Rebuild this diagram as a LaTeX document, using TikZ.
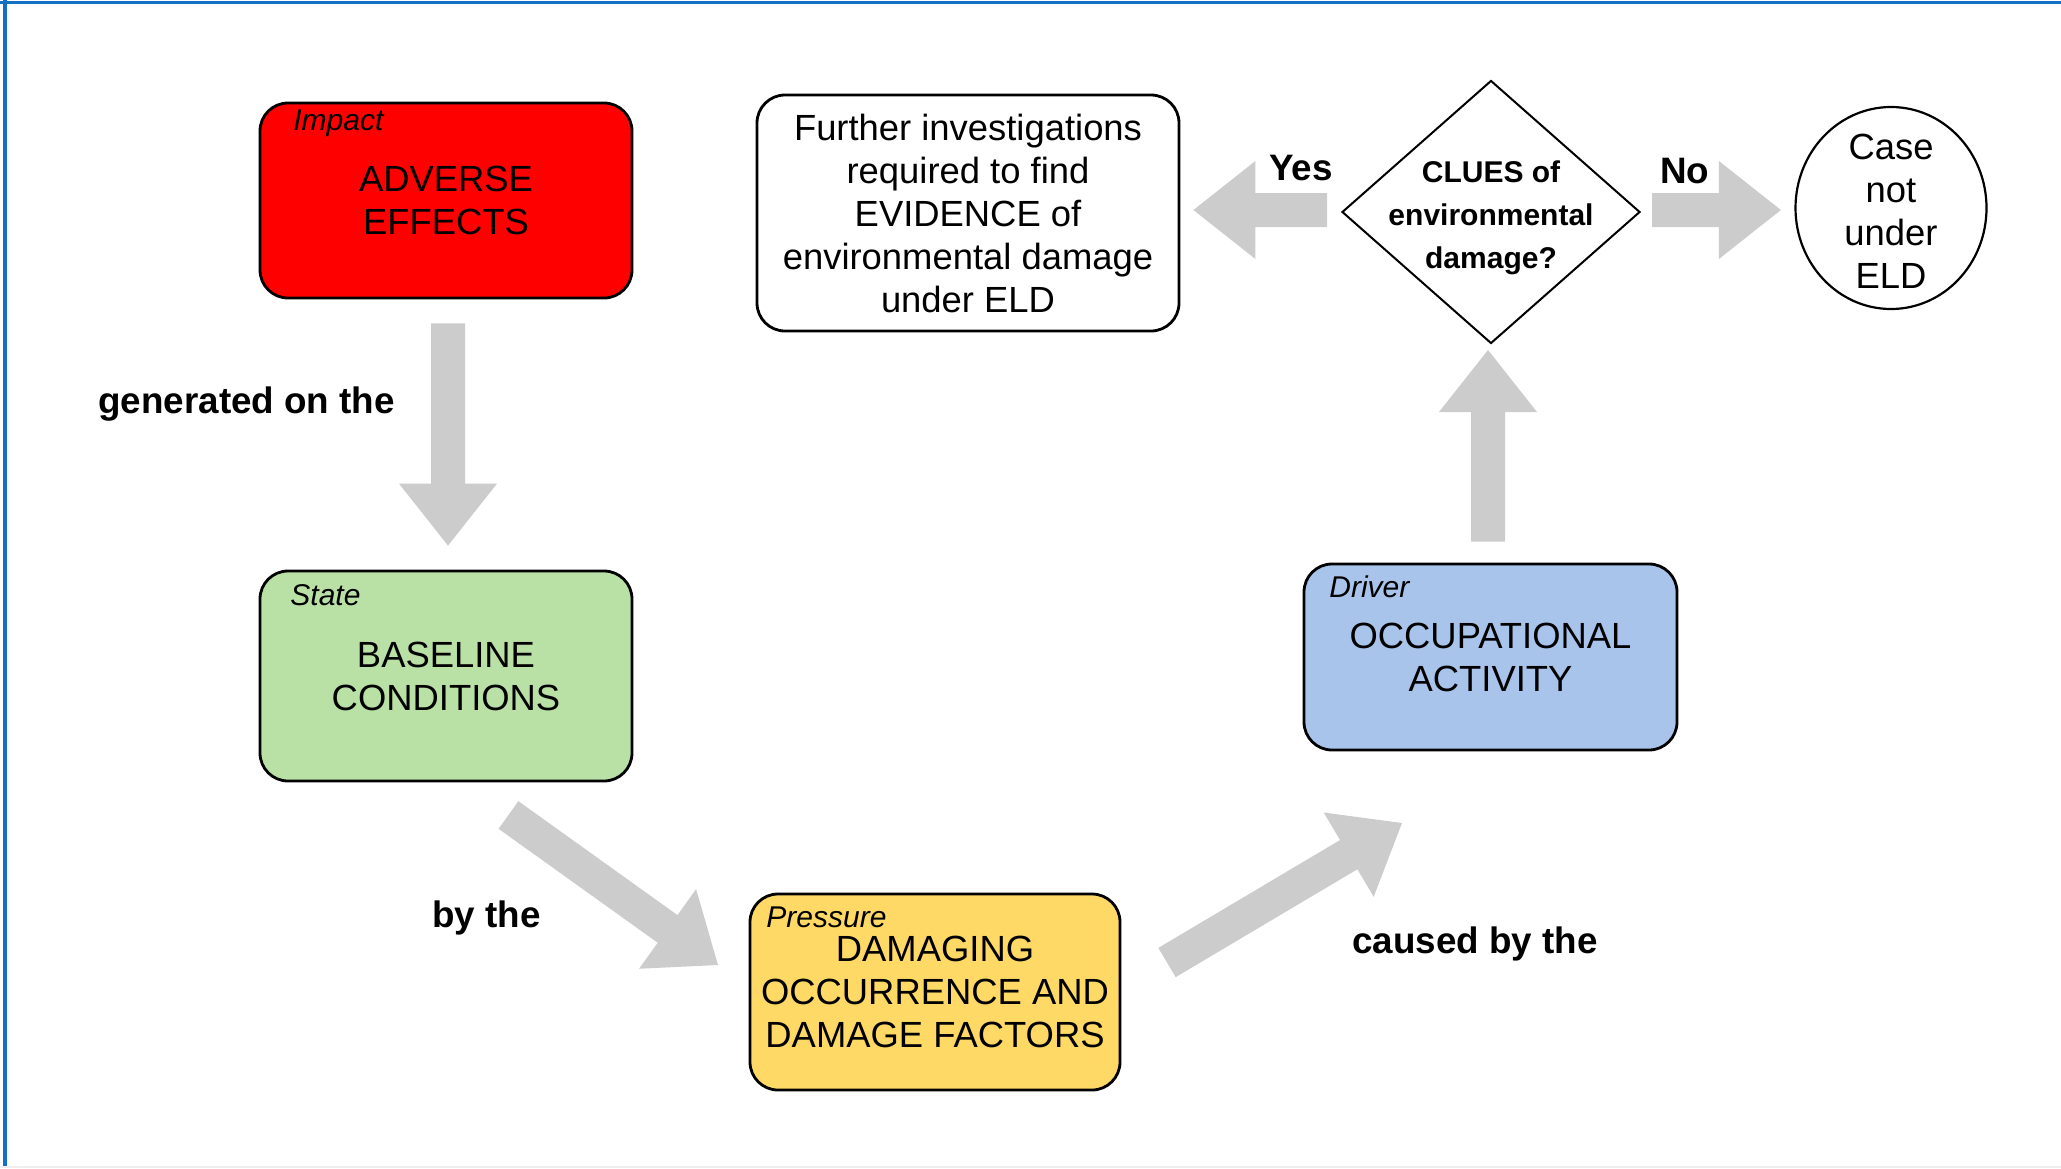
\documentclass[tikz,border=0pt]{standalone}
\usepackage{fontspec}
\setmainfont{Liberation Sans}
\usetikzlibrary{shapes.geometric,calc}
\definecolor{framec}{RGB}{20,112,196}
\definecolor{arrc}{RGB}{204,204,204}
\definecolor{redc}{RGB}{255,0,0}
\definecolor{greenc}{RGB}{185,224,165}
\definecolor{yellowc}{RGB}{255,217,102}
\definecolor{bluec}{RGB}{169,196,235}
% block arrow from tail coordinate #1 to tip coordinate #2
\newcommand{\blockarr}[2]{%
  \coordinate (#1-#2-h) at ($(#2)!31pt!(#1)$);
  \fill[arrc] ($(#1)!8.5pt!90:(#2)$) -- ($(#1-#2-h)!8.5pt!-90:(#1)$) -- ($(#1-#2-h)!24.5pt!-90:(#1)$) -- (#2) -- ($(#1-#2-h)!24.5pt!90:(#1)$) -- ($(#1-#2-h)!8.5pt!90:(#1)$) -- ($(#1)!8.5pt!-90:(#2)$) -- cycle;}
\tikzset{
  box/.style={draw, line width=1.4pt, rounded corners=14pt, inner sep=0pt, align=center, font=\fontsize{18.2}{21.5}\selectfont},
  tag/.style={anchor=base west, inner sep=0pt, font=\fontsize{15}{18}\selectfont\itshape},
  lbl/.style={anchor=base west, inner sep=0pt, font=\fontsize{18.4}{21.5}\selectfont\bfseries},
  plain/.style={inner sep=0pt, align=center, font=\fontsize{18.2}{21.5}\selectfont},
}
\begin{document}
\begin{tikzpicture}[x=0.5pt,y=-0.5pt]
\useasboundingbox (0,0) rectangle (2061,1168);
% frame
\draw[framec, line width=1.5pt] (0,2.5) -- (2061,2.5);
\draw[framec, line width=2.2pt] (5,0) -- (5,1168);
\draw[black!6, line width=0.6pt] (0,1167) -- (2061,1167);

% boxes
\node[box, fill=redc, minimum width=186pt, minimum height=97.5pt] (impact) at (446,200.5) {ADVERSE\\EFFECTS};
\node[tag] (impactlbl) at (293,130) {Impact};
\node[box, fill=greenc, minimum width=186pt, minimum height=105pt] (state) at (446,676) {BASELINE\\CONDITIONS};
\node[tag] (statelbl) at (290,605) {State};
\node[box, fill=yellowc, minimum width=185pt, minimum height=98pt] (pressure) at (935,992) {DAMAGING\\OCCURRENCE AND\\DAMAGE FACTORS};
\node[tag] (pressurelbl) at (766,927) {Pressure};
\node[box, fill=bluec, minimum width=186.5pt, minimum height=93pt] (driver) at (1490.5,657) {OCCUPATIONAL\\ACTIVITY};
\node[tag] (driverlbl) at (1329,597) {Driver};
\node[box, fill=white, minimum width=211pt, minimum height=118pt] (further) at (968,213) {Further investigations\\required to find\\EVIDENCE of\\environmental damage\\under ELD};

\node[diamond, draw, line width=1pt, minimum width=149pt, minimum height=131.5pt, inner sep=0pt] (clue) at (1491,212) {};
\node[plain, font=\fontsize{15}{21.5}\selectfont\bfseries] (cluetxt) at (1491,218) {CLUES of\\environmental\\damage?};
\node[ellipse, draw, line width=1.1pt, minimum width=95.5pt, minimum height=101pt, inner sep=0pt] (case) at (1891,208) {};
\node[plain] (casetxt) at (1891,211) {Case\\not\\under\\ELD};

% labels
\node[lbl] (gen) at (98,413) {generated on the};
\node[lbl] (bythe) at (432,927) {by the};
\node[lbl] (caused) at (1352,953) {caused by the};
\node[lbl] (yes) at (1269,180) {Yes};
\node[lbl] (no) at (1660,183) {No};

% arrow end points
\coordinate (a1t) at ($(impact.south)+(2,24)$);
\coordinate (a1h) at ($(state.north)+(2,-24)$);
\coordinate (a2t) at (508.5,815);
\coordinate (a2h) at (718,965);
\coordinate (a3t) at (1167,962.5);
\coordinate (a3h) at (1402,823);
\coordinate (a4t) at ($(driver.north)+(-2.5,-21)$);
\coordinate (a4h) at ($(clue.south)+(-3,5.5)$);
\coordinate (a5t) at ($(clue.west)+(-14,-2)$);
\coordinate (a5h) at ($(further.east)+(13,-3)$);
\coordinate (a6t) at ($(clue.east)+(11,-2)$);
\coordinate (a6h) at ($(case.west)+(-13.5,2)$);

\blockarr{a1t}{a1h}
\blockarr{a2t}{a2h}
\blockarr{a3t}{a3h}
\blockarr{a4t}{a4h}
\blockarr{a5t}{a5h}
\blockarr{a6t}{a6h}
\end{tikzpicture}
\end{document}
